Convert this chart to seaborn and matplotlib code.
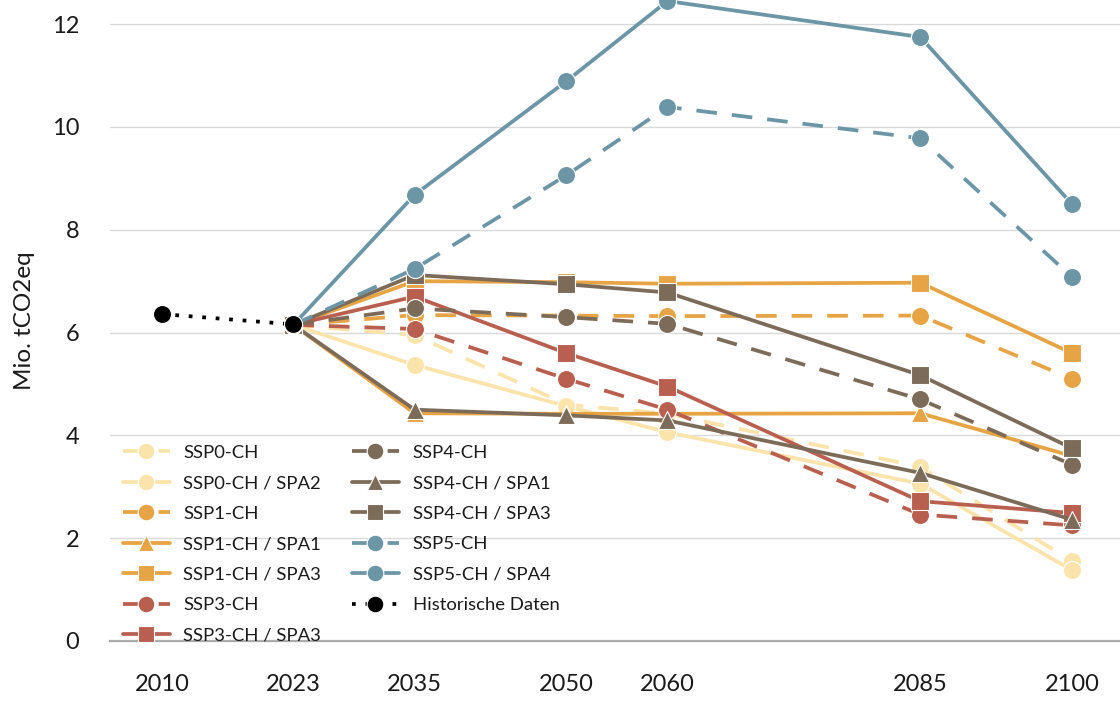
"""Treibhausgasemissionen: Szenarien SSP0-SSP5 (Schweiz) bis 2100 plus historische Daten."""

# %% IMPORTS
from matplotlib.lines import Line2D
import matplotlib.pyplot as plt
import pandas as pd
import seaborn as sns

# %% DATA
years = [2023, 2035, 2050, 2060, 2085, 2100]

ssp0_ch = [6.15, 5.95, 4.60, 4.42, 3.39, 1.55]
ssp0_spa2 = [6.15, 5.37, 4.57, 4.06, 3.06, 1.38]
ssp1_ch = [6.15, 6.34, 6.33, 6.32, 6.33, 5.10]
ssp1_spa1 = [6.15, 4.43, 4.42, 4.42, 4.43, 3.60]
ssp1_spa3 = [6.15, 7.00, 6.98, 6.95, 6.97, 5.60]
ssp3_ch = [6.15, 6.07, 5.10, 4.50, 2.46, 2.25]
ssp3_spa3 = [6.15, 6.70, 5.60, 4.95, 2.72, 2.49]
ssp4_ch = [6.15, 6.47, 6.30, 6.17, 4.70, 3.43]
ssp4_spa1 = [6.15, 4.50, 4.39, 4.29, 3.27, 2.36]
ssp4_spa3 = [6.15, 7.12, 6.94, 6.78, 5.17, 3.75]
ssp5_ch = [6.15, 7.24, 9.06, 10.39, 9.78, 7.08]
ssp5_spa4 = [6.15, 8.68, 10.89, 12.45, 11.75, 8.50]

hist_years = [2010, 2023]
hist = [6.36, 6.16]

series = {
    "SSP0-CH": ssp0_ch,
    "SSP0-CH / SPA2": ssp0_spa2,
    "SSP1-CH": ssp1_ch,
    "SSP1-CH / SPA1": ssp1_spa1,
    "SSP1-CH / SPA3": ssp1_spa3,
    "SSP3-CH": ssp3_ch,
    "SSP3-CH / SPA3": ssp3_spa3,
    "SSP4-CH": ssp4_ch,
    "SSP4-CH / SPA1": ssp4_spa1,
    "SSP4-CH / SPA3": ssp4_spa3,
    "SSP5-CH": ssp5_ch,
    "SSP5-CH / SPA4": ssp5_spa4,
}

x_ticks = [2010, 2023, 2035, 2050, 2060, 2085, 2100]

# long format for seaborn
rows = []
for name, vals in series.items():
    for yr, v in zip(years, vals):
        rows.append({"Jahr": yr, "Wert": v, "Szenario": name})
for yr, v in zip(hist_years, hist):
    rows.append({"Jahr": yr, "Wert": v, "Szenario": "Historische Daten"})
df = pd.DataFrame(rows)

# %% STYLES
YEL, ORA, RED, BRN, BLU = "#FBE3AC", "#E6A445", "#B95F50", "#7C6B59", "#6C95A6"
DASH = (5.5, 4)
DOT = (1, 2.6)

palette = {
    "SSP0-CH": YEL, "SSP0-CH / SPA2": YEL,
    "SSP1-CH": ORA, "SSP1-CH / SPA1": ORA, "SSP1-CH / SPA3": ORA,
    "SSP3-CH": RED, "SSP3-CH / SPA3": RED,
    "SSP4-CH": BRN, "SSP4-CH / SPA1": BRN, "SSP4-CH / SPA3": BRN,
    "SSP5-CH": BLU, "SSP5-CH / SPA4": BLU,
    "Historische Daten": "black",
}
markers = {
    "SSP0-CH": "o", "SSP0-CH / SPA2": "o",
    "SSP1-CH": "o", "SSP1-CH / SPA1": "^", "SSP1-CH / SPA3": "s",
    "SSP3-CH": "o", "SSP3-CH / SPA3": "s",
    "SSP4-CH": "o", "SSP4-CH / SPA1": "^", "SSP4-CH / SPA3": "s",
    "SSP5-CH": "o", "SSP5-CH / SPA4": "o",
    "Historische Daten": "o",
}
dashes = {
    "SSP0-CH": DASH, "SSP0-CH / SPA2": "",
    "SSP1-CH": DASH, "SSP1-CH / SPA1": "", "SSP1-CH / SPA3": "",
    "SSP3-CH": DASH, "SSP3-CH / SPA3": "",
    "SSP4-CH": DASH, "SSP4-CH / SPA1": "", "SSP4-CH / SPA3": "",
    "SSP5-CH": DASH, "SSP5-CH / SPA4": "",
    "Historische Daten": DOT,
}
order = list(series.keys()) + ["Historische Daten"]

# %% VISUALISE
sns.set_theme(style="white")
plt.rcParams["font.family"] = ["Lato", "DejaVu Sans"]
plt.rcParams["text.color"] = "#1A1A1A"
plt.rcParams["xtick.labelcolor"] = "#1A1A1A"
plt.rcParams["ytick.labelcolor"] = "#1A1A1A"
plt.rcParams["axes.labelcolor"] = "#1A1A1A"

fig = plt.figure(figsize=(11.2, 7.04), dpi=100)
ax = fig.add_axes([0.098, 0.0895, 0.902, 0.9105])

sns.lineplot(
    data=df,
    x="Jahr",
    y="Wert",
    hue="Szenario",
    style="Szenario",
    hue_order=order,
    style_order=order,
    palette=palette,
    markers=markers,
    dashes=dashes,
    linewidth=2.7,
    markersize=13,
    markeredgecolor="white",
    markeredgewidth=0.8,
    legend=False,
    ax=ax,
)
for ln in ax.get_lines():
    ln.set_clip_on(False)

# Axes
ax.set_xlim(2004.85, 2104.75)
ax.set_ylim(0, 12.47)
ax.set_xticks(x_ticks)
ax.set_yticks(range(0, 13, 2))
ax.tick_params(axis="x", length=0, pad=24, labelsize=17)
ax.tick_params(axis="y", length=0, pad=22, labelsize=17)
ax.grid(axis="y", color="#D9D9D9", linewidth=1.0)
ax.set_axisbelow(True)
for side in ["top", "right", "left"]:
    ax.spines[side].set_visible(False)
ax.spines["bottom"].set_color("#A6A6A6")
ax.spines["bottom"].set_linewidth(1.6)
ax.spines["bottom"].set_zorder(0.5)

ax.set_xlabel("")
ax.set_ylabel("Mio. tCO2eq", fontsize=17.5, labelpad=12)

# Legend
handles = []
for name in order:
    handles.append(Line2D(
        [], [], color=palette[name], marker=markers[name], markersize=12,
        markeredgecolor="white", markeredgewidth=0.8, linewidth=2.7,
        linestyle=(0, dashes[name]) if dashes[name] else "-",
        label=name,
    ))
ax.legend(
    handles=handles,
    loc="upper left",
    bbox_to_anchor=(0.0, 0.326),
    ncol=2,
    frameon=False,
    fontsize=13.3,
    handlelength=2.54,
    handletextpad=0.75,
    columnspacing=1.65,
    labelspacing=0.78,
    borderaxespad=0.3,
)

plt.savefig("out.png", dpi=100)
